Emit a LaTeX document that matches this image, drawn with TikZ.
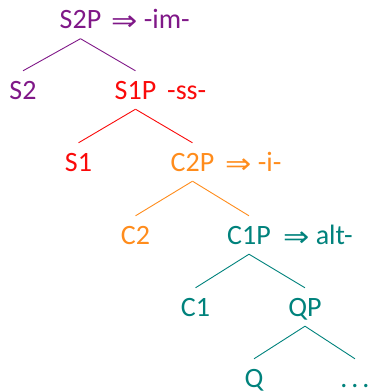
\documentclass[tikz,border=0pt]{standalone}
\usepackage{graphicx}
\usepackage{fontspec}
\setmainfont{Carlito}
\newfontfamily\arrowfont{DejaVu Sans}
\definecolor{cpurple}{RGB}{128,24,136}
\definecolor{cred}{RGB}{250,10,10}
\definecolor{corange}{RGB}{255,140,28}
\definecolor{cteal}{RGB}{0,130,124}
\newcommand{\impl}{\raisebox{-2pt}{\scalebox{1.12}[1]{\arrowfont\fontsize{28}{32}\selectfont ⇒}}}
\begin{document}
\begin{tikzpicture}[x=1pt,y=-1pt,
  lbl/.style={anchor=base,inner xsep=0pt,inner ysep=10pt,text height=18pt,text depth=0pt,
    font=\fontsize{28}{32}\selectfont},
  note/.style={anchor=base west,inner sep=0pt,font=\fontsize{28}{32}\selectfont},
  branch/.style={line width=0.9pt}]
\useasboundingbox (0,0) rectangle (370,391);

% labels of the tree
\node[lbl,cpurple] (s2p) at (80.5,28.5) {S2P};
\node[lbl,cpurple] (s2)  at (23,99)   {S2};
\node[lbl,cred]    (s1p) at (135.5,99) {S1P};
\node[lbl,cred]    (s1)  at (78.5,171) {S1};
\node[lbl,corange] (c2p) at (192.5,171) {C2P};
\node[lbl,corange] (c2)  at (135.5,244) {C2};
\node[lbl,cteal]   (c1p) at (249,244) {C1P};
\node[lbl,cteal]   (c1)  at (195.5,316) {C1};
\node[lbl,cteal]   (qp)  at (305,316) {QP};
\node[lbl,cteal]   (q)   at (254,387) {Q};
\node[lbl,cteal]   (dots) at (355,387) {.\hspace{4pt}.\hspace{4pt}.};

% exponents next to the projections
\node[note,cpurple] (n-im)  at (111,28.5) {\impl\ -im-};
\node[note,cred]    (n-ss)  at (167,99)  {-ss-};
\node[note,corange] (n-i)   at (225,171) {\impl\ -i-};
\node[note,cteal]   (n-alt) at (283,244) {\impl\ alt-};

% branches
\draw[branch,cpurple] (s2p.south) -- (s2.north);
\draw[branch,cpurple] (s2p.south) -- (s1p.north);
\draw[branch,cred]    (s1p.south) -- (s1.north);
\draw[branch,cred]    (s1p.south) -- (c2p.north);
\draw[branch,corange] (c2p.south) -- (c2.north);
\draw[branch,corange] (c2p.south) -- (c1p.north);
\draw[branch,cteal]   (c1p.south) -- (c1.north);
\draw[branch,cteal]   (c1p.south) -- (qp.north);
\draw[branch,cteal]   (qp.south) -- (q.north);
\draw[branch,cteal]   (qp.south) -- (dots.north);
\end{tikzpicture}
\end{document}
